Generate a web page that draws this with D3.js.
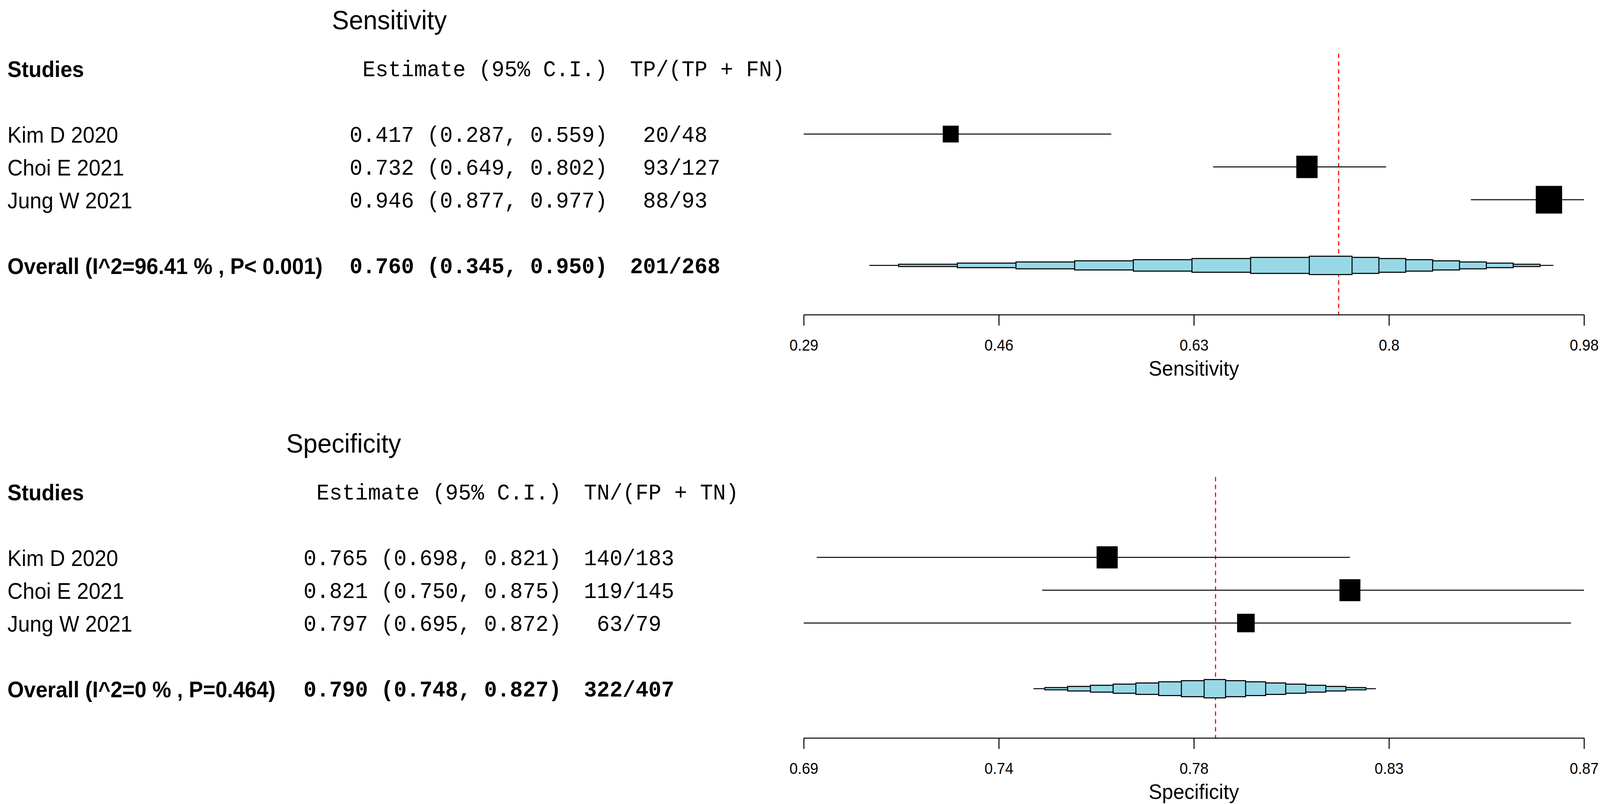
<!DOCTYPE html>
<html>
<head>
<meta charset="utf-8">
<script src="https://cdn.jsdelivr.net/npm/d3@7"></script>
<style>
  html, body { margin: 0; padding: 0; background: #fff; overflow: hidden; }
  svg { display: block; width: 100vw; height: 100vh; }
  text { white-space: pre; }
</style>
</head>
<body>
<script>
const W = 4302, H = 2057;
const SANS = "'Liberation Sans', Arial, sans-serif";
const MONO = "'Courier New', 'Liberation Mono', monospace";

// study labels (same in both panels)
const studies = ["Kim D 2020", "Choi E 2021", "Jung W 2021"];

// sensitivity
const sensEst = [0.417, 0.732, 0.946];
const sensLow = [0.287, 0.649, 0.877];
const sensHigh = [0.559, 0.802, 0.977];
const sensTP = [20, 93, 88];
const sensPos = [48, 127, 93];
const sensPooled = [0.760, 0.345, 0.950]; // estimate, lower, upper
const sensPooledCount = [201, 268];
const sensOverall = "Overall (I^2=96.41 % , P< 0.001)";
const sensTicks = [0.287, 0.4595, 0.632, 0.8045, 0.977];
const sensTickLabels = ["0.29", "0.46", "0.63", "0.8", "0.98"];

// specificity
const specEst = [0.765, 0.821, 0.797];
const specLow = [0.698, 0.750, 0.695];
const specHigh = [0.821, 0.875, 0.872];
const specTN = [140, 119, 63];
const specNeg = [183, 145, 79];
const specPooled = [0.790, 0.748, 0.827];
const specPooledCount = [322, 407];
const specOverall = "Overall (I^2=0 % , P=0.464)";
const specTicks = [0.695, 0.74, 0.785, 0.83, 0.875];
const specTickLabels = ["0.69", "0.74", "0.78", "0.83", "0.87"];

const panels = [
  {
    top: 0, title: "Sensitivity", axisTitle: "Sensitivity", countHead: "TP/(TP + FN)",
    est: sensEst, low: sensLow, high: sensHigh, num: sensTP, den: sensPos,
    pooled: sensPooled, pooledCount: sensPooledCount, overall: sensOverall,
    ticks: sensTicks, tickLabels: sensTickLabels,
    estX: 940, cntX: 1694, titleX: 1047, boxScale: 22.4
  },
  {
    top: 1083, title: "Specificity", axisTitle: "Specificity", countHead: "TN/(FP + TN)",
    est: specEst, low: specLow, high: specHigh, num: specTN, den: specNeg,
    pooled: specPooled, pooledCount: specPooledCount, overall: specOverall,
    ticks: specTicks, tickLabels: specTickLabels,
    estX: 816, cntX: 1570, titleX: 924, boxScale: 19.9
  }
];

// the viewport is not always exactly W x H, so stretch the drawing to fill it
const svg = d3.select("body").append("svg")
  .attr("viewBox", `0 0 ${W} ${H}`)
  .attr("preserveAspectRatio", "none");

const fmt = d3.format(".3f");
const ciText = (e, l, h) => `${fmt(e)} (${fmt(l)}, ${fmt(h)})`;
const countText = (n, d) => String(n).padStart(3) + "/" + d;

function label(g, x, y, str, opts) {
  return g.append("text")
    .attr("x", x)
    .attr("y", y)
    .attr("font-family", opts.mono ? MONO : SANS)
    .attr("font-size", opts.size || (opts.mono ? 57.8 : 57))
    .attr("font-weight", opts.bold ? "bold" : null)
    .attr("text-anchor", opts.anchor || "start")
    .text(str);
}

function drawPanel(p) {
  const g = svg.append("g").attr("transform", `translate(0,${p.top})`);
  const x = d3.scaleLinear().domain(d3.extent(p.ticks)).range([2161, 4259]);
  const y = d3.scaleLinear().domain([0, 1]).range([343, 427]); // row units
  const sansOff = 22, monoOff = 20;

  // title and header row
  label(g, p.titleX, 75, p.title, { size: 68.6, anchor: "middle" });
  label(g, 20, y(-2) + sansOff, "Studies", { bold: true });
  label(g, p.estX, y(-2) + monoOff, " Estimate (95% C.I.)", { mono: true });
  label(g, p.cntX, y(-2) + monoOff, p.countHead, { mono: true });

  // study rows text
  studies.forEach((s, i) => {
    label(g, 20, y(i) + sansOff, s, {});
    label(g, p.estX, y(i) + monoOff, ciText(p.est[i], p.low[i], p.high[i]), { mono: true });
    label(g, p.cntX, y(i) + monoOff, countText(p.num[i], p.den[i]), { mono: true });
  });

  // overall row text
  const [pe, pl, ph] = p.pooled;
  label(g, 20, y(4) + sansOff, p.overall, { bold: true });
  label(g, p.estX, y(4) + monoOff, ciText(pe, pl, ph), { mono: true, bold: true });
  label(g, p.cntX, y(4) + monoOff, countText(p.pooledCount[0], p.pooledCount[1]), { mono: true, bold: true });

  // reference line at pooled estimate
  g.append("line")
    .attr("x1", x(pe)).attr("x2", x(pe))
    .attr("y1", y(-2.45)).attr("y2", y(5.5))
    .attr("stroke", "#ff0000")
    .attr("stroke-width", 3)
    .attr("stroke-dasharray", "11 9");

  // CI lines and boxes
  studies.forEach((s, i) => {
    g.append("line")
      .attr("x1", x(p.low[i])).attr("x2", x(p.high[i]))
      .attr("y1", y(i)).attr("y2", y(i))
      .attr("stroke", "#000")
      .attr("stroke-width", 2.7);
    const size = p.boxScale / Math.sqrt(p.high[i] - p.low[i]);
    g.append("rect")
      .attr("x", x(p.est[i]) - size / 2)
      .attr("y", y(i) - size / 2)
      .attr("width", size)
      .attr("height", size)
      .attr("fill", "#000");
  });

  // stepped diamond for pooled estimate
  const yo = y(4);
  g.append("line")
    .attr("x1", x(pl)).attr("x2", x(ph))
    .attr("y1", yo).attr("y2", yo)
    .attr("stroke", "#000")
    .attr("stroke-width", 2.7);
  const levels = 8;
  const dl = (pe - pl) / levels, dh = (ph - pe) / levels;
  d3.range(1, levels + 1).forEach(k => {
    const x0 = x(pl + (k - 0.5) * dl), x1 = x(ph - (k - 0.5) * dh);
    g.append("rect")
      .attr("x", x0)
      .attr("y", yo - 2.93 * k)
      .attr("width", x1 - x0)
      .attr("height", 5.86 * k)
      .attr("fill", "#98d8e6")
      .attr("stroke", "#000")
      .attr("stroke-width", 2.7);
  });

  // axis
  const axis = g.append("g")
    .attr("transform", `translate(0,${y(5.5)})`)
    .call(d3.axisBottom(x)
      .tickValues(p.ticks)
      .tickFormat((d, i) => p.tickLabels[i])
      .tickSize(28)
      .tickSizeOuter(0));
  axis.select(".domain").attr("stroke-width", 2.7);
  axis.selectAll(".tick line").attr("stroke-width", 2.7);
  axis.selectAll(".tick text")
    .attr("y", 92)
    .attr("dy", null)
    .attr("font-family", SANS)
    .attr("font-size", 40)
    .attr("fill", "#000");

  label(g, (x.range()[0] + x.range()[1]) / 2, 961, p.axisTitle, { size: 54, anchor: "middle" });
}

panels.forEach(drawPanel);
</script>
</body>
</html>
